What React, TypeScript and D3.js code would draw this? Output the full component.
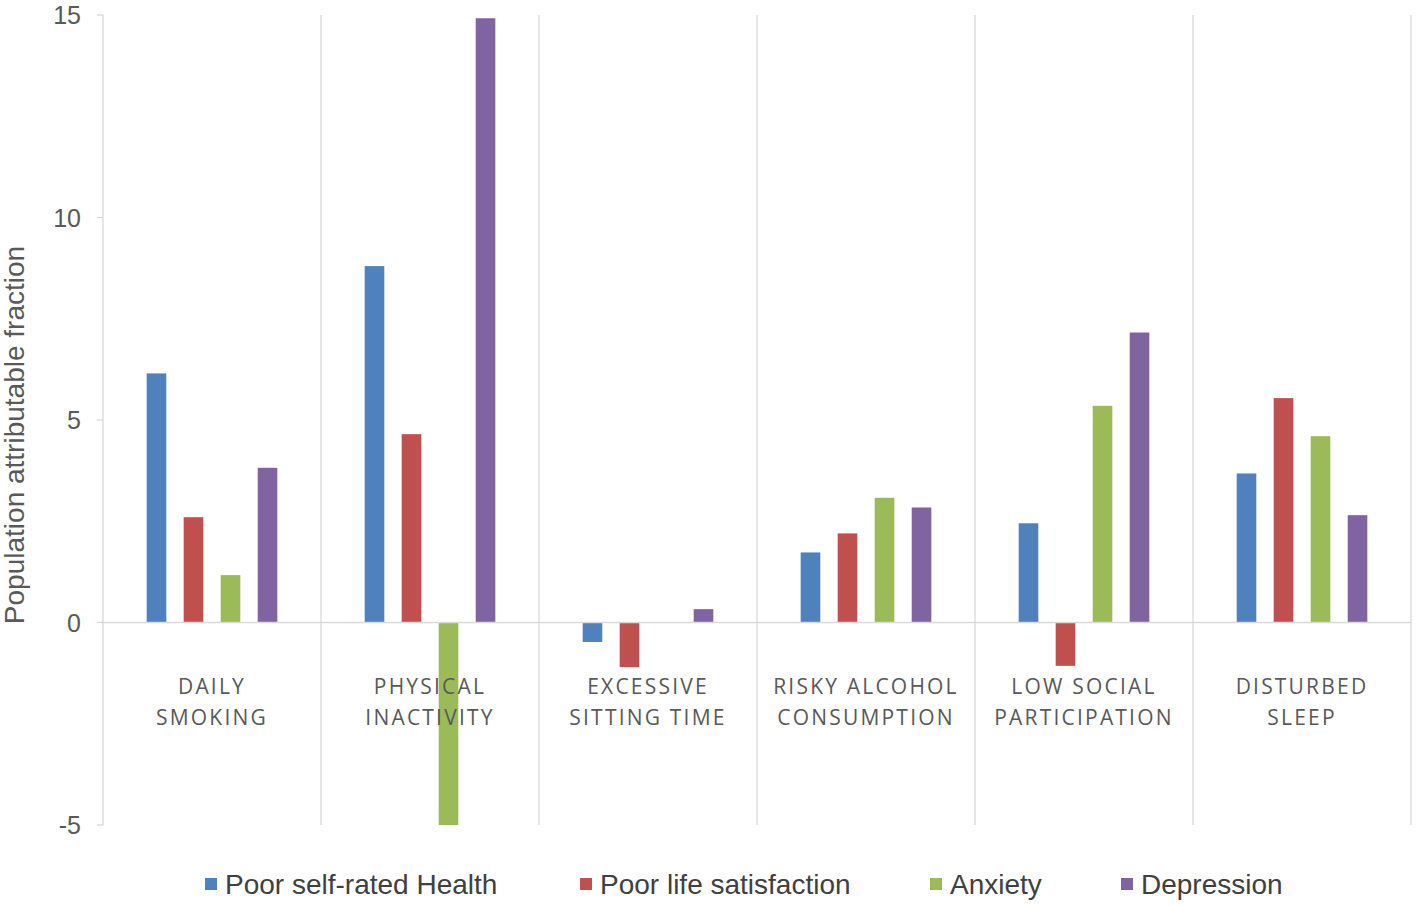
import React from "react";
import * as d3 from "d3";

const categories = [
  ["DAILY", "SMOKING"],
  ["PHYSICAL", "INACTIVITY"],
  ["EXCESSIVE", "SITTING TIME"],
  ["RISKY ALCOHOL", "CONSUMPTION"],
  ["LOW SOCIAL", "PARTICIPATION"],
  ["DISTURBED", "SLEEP"],
];
const seriesNames = ["Poor self-rated Health", "Poor life satisfaction", "Anxiety", "Depression"];
const seriesColors = ["#4F81BD", "#C0504D", "#9BBB59", "#8064A2"];
const poorHealth = [6.15, 8.8, -0.48, 1.73, 2.45, 3.68];
const poorLife = [2.6, 4.65, -1.1, 2.2, -1.07, 5.54];
const anxiety = [1.17, -5.0, 0, 3.08, 5.35, 4.6];
const depression = [3.82, 14.92, 0.33, 2.84, 7.16, 2.65];
const yTicks = [-5, 0, 5, 10, 15];

const W = 1418;
const H = 907;
const left = 103;
const right = 1411;
const top = 15;
const bottom = 825;

export default function App() {
  const series = [poorHealth, poorLife, anxiety, depression];
  const keys = categories.map((c) => c.join(" "));
  const x0 = d3.scaleBand<string>().domain(keys).range([left, right]).padding(0);
  const x1 = d3
    .scaleBand<string>()
    .domain(seriesNames)
    .range([0, x0.bandwidth()])
    .paddingInner(0.47)
    .paddingOuter(1.18);
  const y = d3.scaleLinear().domain([-5, 15]).range([bottom, top]);
  const grid = "#D9D9D9";
  const textCol = "#595959";

  const legendX = [205, 580, 930, 1121];

  return (
    <svg
      width={W}
      height={H}
      style={{ position: "absolute", left: 0, top: 0, background: "#fff" }}
    >
      {keys.map((k, i) => (
        <line
          key={"sep" + i}
          x1={(x0(k) as number) + x0.bandwidth()}
          x2={(x0(k) as number) + x0.bandwidth()}
          y1={top}
          y2={bottom}
          stroke={grid}
          strokeWidth={1.3}
        />
      ))}
      <line x1={left} x2={left} y1={top} y2={bottom} stroke={grid} strokeWidth={1.3} />
      {yTicks.map((t) => (
        <g key={"t" + t}>
          <line x1={left - 6} x2={left} y1={y(t)} y2={y(t)} stroke={grid} strokeWidth={1.3} />
          <text
            x={81}
            y={y(t)}
            dy="0.36em"
            textAnchor="end"
            fontFamily="Liberation Sans, Arial, sans-serif"
            fontSize={25}
            fill={textCol}
          >
            {t}
          </text>
        </g>
      ))}
      {series.map((vals, si) =>
        vals.map((v, ci) => {
          if (v === 0) return null;
          const xb = (x0(keys[ci]) as number) + (x1(seriesNames[si]) as number);
          const y0 = y(0);
          const yv = y(v);
          return (
            <rect
              key={si + "-" + ci}
              x={xb}
              width={x1.bandwidth()}
              y={Math.min(y0, yv)}
              height={Math.abs(yv - y0)}
              fill={seriesColors[si]}
            />
          );
        })
      )}
      <line x1={left} x2={right} y1={y(0)} y2={y(0)} stroke={grid} strokeWidth={1.3} />
      {categories.map((c, i) => {
        const cx = (x0(keys[i]) as number) + x0.bandwidth() / 2;
        return (
          <text
            key={"c" + i}
            textAnchor="middle"
            fontFamily="Open Sans, sans-serif"
            fontSize={21}
            letterSpacing={2.2}
            fill={textCol}
          >
            <tspan x={cx} y={694}>
              {c[0]}
            </tspan>
            <tspan x={cx} y={725}>
              {c[1]}
            </tspan>
          </text>
        );
      })}
      <text
        transform={`translate(24, 435) rotate(-90)`}
        textAnchor="middle"
        fontFamily="Liberation Sans, Arial, sans-serif"
        fontSize={28}
        fill={textCol}
      >
        Population attributable fraction
      </text>
      {seriesNames.map((n, i) => (
        <g key={"l" + i}>
          <rect x={legendX[i]} y={878} width={12} height={12} fill={seriesColors[i]} />
          <text
            x={legendX[i] + 20}
            y={884}
            dy="0.36em"
            fontFamily="Liberation Sans, Arial, sans-serif"
            fontSize={28}
            fill="#404040"
          >
            {n}
          </text>
        </g>
      ))}
    </svg>
  );
}
